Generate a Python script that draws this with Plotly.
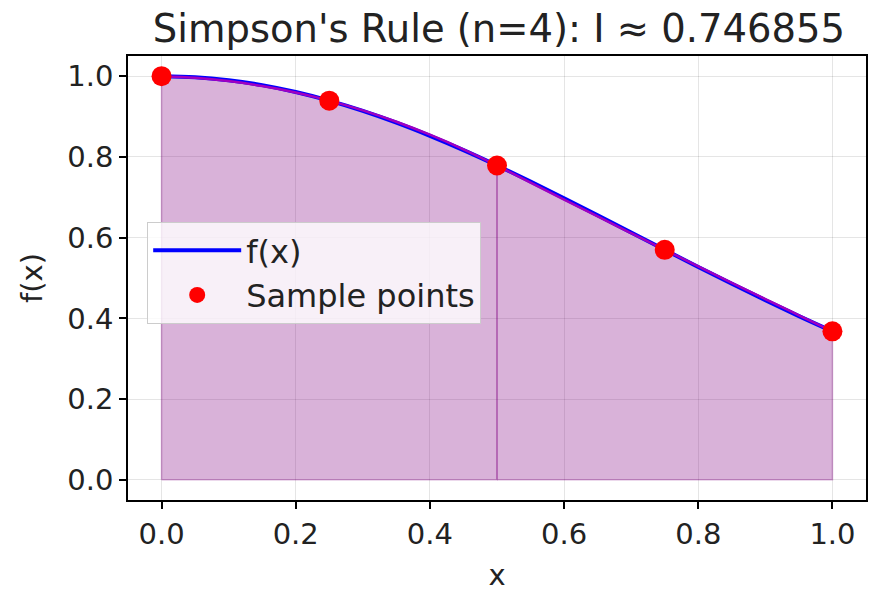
import plotly.graph_objects as go

# curve f(x)
x_curve = [0.0, 0.05, 0.10, 0.15, 0.20, 0.25, 0.30, 0.35, 0.40, 0.45, 0.50,
           0.55, 0.60, 0.65, 0.70, 0.75, 0.80, 0.85, 0.90, 0.95, 1.0]
y_curve = [1.0, 0.9975, 0.9900, 0.9778, 0.9608, 0.9394, 0.9139, 0.8847, 0.8521, 0.8167, 0.7788,
           0.7390, 0.6977, 0.6554, 0.6126, 0.5698, 0.5273, 0.4856, 0.4449, 0.4056, 0.3679]

# Simpson parabolic segments
x_seg1 = [0.0, 0.05, 0.10, 0.15, 0.20, 0.25, 0.30, 0.35, 0.40, 0.45, 0.50]
y_seg1 = [1.0, 0.9959, 0.9878, 0.9756, 0.9595, 0.9394, 0.9153, 0.8872, 0.8550, 0.8189, 0.7788]
x_seg2 = [0.50, 0.55, 0.60, 0.65, 0.70, 0.75, 0.80, 0.85, 0.90, 0.95, 1.0]
y_seg2 = [0.7788, 0.7364, 0.6944, 0.6526, 0.6110, 0.5698, 0.5289, 0.4882, 0.4478, 0.4077, 0.3679]

# sample points
x_pts = [0.0, 0.25, 0.5, 0.75, 1.0]
y_pts = [1.0, 0.9394, 0.7788, 0.5698, 0.3679]

x_ticks = [0.0, 0.2, 0.4, 0.6, 0.8, 1.0]
y_ticks = [0.0, 0.2, 0.4, 0.6, 0.8, 1.0]

FILL = "rgba(128,0,128,0.3)"
fig = go.Figure()

for xs, ys in [(x_seg1, y_seg1), (x_seg2, y_seg2)]:
    px = [xs[0]] + xs + [xs[-1], xs[0]]
    py = [0.0] + ys + [0.0, 0.0]
    fig.add_trace(go.Scatter(x=px, y=py, mode="lines", fill="toself",
                             fillcolor=FILL, line=dict(color=FILL, width=1.5),
                             showlegend=False, hoverinfo="skip"))

fig.add_trace(go.Scatter(x=x_curve, y=y_curve, mode="lines", name="f(x)",
                         line=dict(color="blue", width=4, shape="spline")))
for xs, ys in [(x_seg1, y_seg1), (x_seg2, y_seg2)]:
    fig.add_trace(go.Scatter(x=xs, y=ys, mode="lines", showlegend=False,
                             line=dict(color="#a000c0", width=2.5, shape="spline")))

fig.add_trace(go.Scatter(x=x_pts, y=y_pts, mode="markers", name="Sample points",
                         marker=dict(color="red", size=20)))

axis_common = dict(showline=True, linecolor="black", linewidth=1.5, mirror=True,
                   ticks="outside", ticklen=7, tickcolor="black", tickwidth=1.5,
                   showgrid=True, gridcolor="rgba(0,0,0,0.1)", gridwidth=1,
                   zeroline=False, tickformat=".1f",
                   tickfont=dict(size=29, color="#222"))

fig.update_layout(
    width=870, height=596,
    margin=dict(l=128, r=2, t=56, b=96),
    paper_bgcolor="white", plot_bgcolor="white",
    font=dict(family="DejaVu Sans", color="#222"),
    title=dict(text="Simpson's Rule (n=4): I ≈ 0.746855", x=0.5735, xanchor="center",
               y=0.952, yanchor="middle", font=dict(size=38.5, color="#222")),
    xaxis=dict(range=[-0.05, 1.05], tickvals=x_ticks,
               title=dict(text="x", font=dict(size=29), standoff=15), **axis_common),
    yaxis=dict(range=[-0.05, 1.05], tickvals=y_ticks,
               title=dict(text="f(x)", font=dict(size=29), standoff=16), **axis_common),
    legend=dict(x=0.026, y=0.626, xanchor="left", yanchor="top",
                bgcolor="rgba(255,255,255,0.8)", bordercolor="#cccccc", borderwidth=1,
                font=dict(size=32, color="#222"), itemwidth=88, tracegroupgap=0),
)

fig.write_html("out.html")
